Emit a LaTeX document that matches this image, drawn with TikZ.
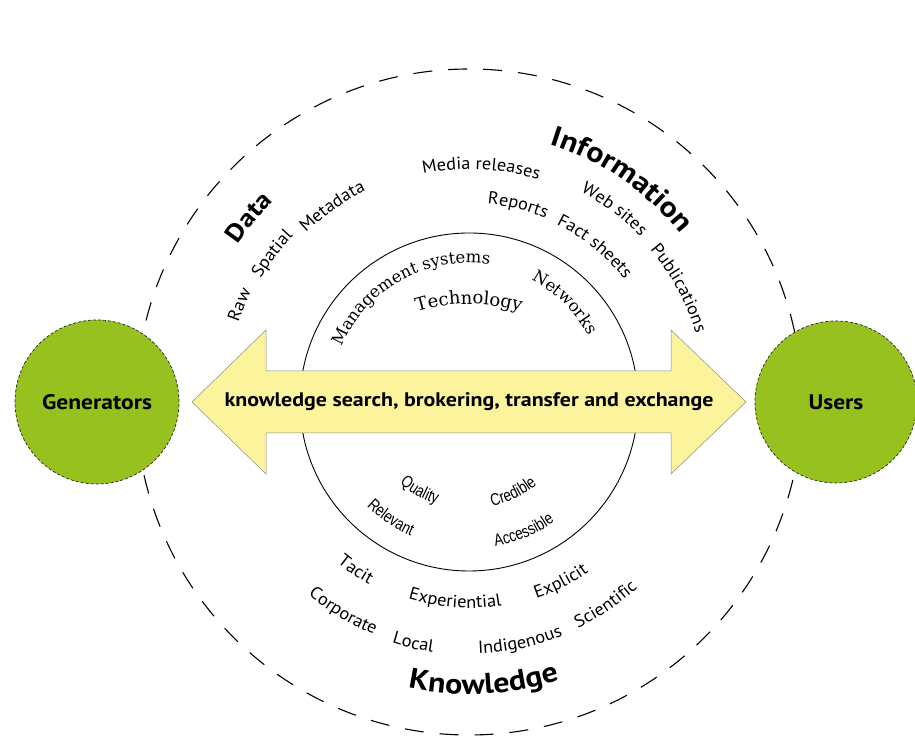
\documentclass[tikz,border=0pt]{standalone}
\usepackage{fontspec}
\setsansfont{PT Sans}
\newfontfamily\widesans[FakeStretch=1.12]{PT Sans}
\newfontfamily\humsans[FakeStretch=1.05]{PT Sans}
\newfontfamily\narrowfont[FakeStretch=0.8]{Liberation Sans}
\newfontfamily\serifB{DejaVu Serif}
\usetikzlibrary{calc,decorations.text}
\definecolor{leaf}{HTML}{96C11F}
\definecolor{pale}{HTML}{FBF49C}
\newcommand\fbig{\widesans\bfseries\fontsize{28.5}{31}\selectfont}
\newcommand\fdata{\widesans\bfseries\fontsize{25}{30}\selectfont}
\newcommand\fmid{\humsans\fontsize{17.5}{20}\selectfont}
\newcommand\fnar{\narrowfont\fontsize{17}{20}\selectfont}
\newcommand\fser{\serifB\fontsize{16.5}{19}\selectfont}
\newcommand\ftech{\serifB\fontsize{18}{21}\selectfont}
\newcommand\farr{\widesans\bfseries\fontsize{19.6}{22}\selectfont}
% text along an upper arc (reads clockwise): #1 centre, #2 radius, #3 mid angle, #4 format, #5 text
\newcommand\uparc[5]{\path[decorate,decoration={text along path,text align=center,text={|#4|#5}}]
  ($(#1)+(#3+50:#2)$) arc[start angle=#3+50,end angle=#3-50,radius=#2];}
% text along a lower arc (reads anticlockwise)
\newcommand\lowarc[5]{\path[decorate,decoration={text along path,text align=center,text={|#4|#5}}]
  ($(#1)+(#3-50:#2)$) arc[start angle=#3-50,end angle=#3+50,radius=#2];}
\tikzset{
  outerring/.style={draw=black,line width=1.1pt,dash pattern=on 19pt off 16pt},
  innerring/.style={draw=black,line width=0.9pt},
  party/.style={circle,fill=leaf,draw=black!85,line width=0.7pt,densely dashed,minimum size=164pt,inner sep=0pt,font=\widesans\bfseries\fontsize{21}{23}\selectfont},
  flowarrow/.style={fill=pale,draw=black!45,line width=0.5pt,line join=miter},
}
\begin{document}
\begin{tikzpicture}[x=1pt,y=1pt]
\path[fill=white] (0,0) rectangle (915,738);
\useasboundingbox (0,0) rectangle (915,738);
\coordinate (C) at (469,336);
\coordinate (C2) at (469,256);
% rings
\draw[outerring] (C) circle (333);
\draw[innerring] (C) circle (169);
% double arrow
\coordinate (L) at (192,336);
\coordinate (R) at (746,336);
\draw[flowarrow] (L) -- ++(74,72) -- ++(0,-41) -- ($(R)+(-75,31)$) -- ++(0,41) -- (R)
  -- ++(-75,-72) -- ++(0,41) -- ($(L)+(74,-31)$) -- ++(0,-41) -- cycle;
\node[font=\farr] (lab) at (C) {knowledge search, brokering, transfer and exchange};
% parties
\node[party] (gen) at (97,336) {Generators};
\node[party,minimum size=162pt] (usr) at (836,336) {Users};
% Data / Information
\uparc{C}{280}{140}{\fdata}{Data}
\uparc{C}{270}{55.5}{\fbig}{Information}
\uparc{C}{244}{157}{\fmid}{Raw}
\uparc{C}{242}{143}{\fmid}{Spatial}
\uparc{C}{235}{125}{\fmid}{Metadata}
\uparc{C}{233}{87}{\fmid}{Media releases}
\uparc{C}{238}{53}{\fmid}{Web sites}
\uparc{C}{237}{28.5}{\fmid}{Publications}
\uparc{C}{199}{76}{\fmid}{Reports}
\uparc{C}{198}{51}{\fmid}{Fact sheets}
% inner upper
\uparc{C}{139}{119}{\fser}{Management systems}
\uparc{C}{137}{46}{\fser}{Networks}
\uparc{C2}{178}{90}{\ftech}{Technology}
% inner lower
\lowarc{C}{107}{241}{\fnar}{Quality}
\lowarc{C}{146}{236}{\fnar}{Relevant}
\lowarc{C}{107}{296}{\fnar}{Credible}
\lowarc{C}{147}{293}{\fnar}{Accessible}
% knowledge
\lowarc{C}{208}{236}{\fmid}{Tacit}
\lowarc{C}{251}{239}{\fmid}{Corporate}
\lowarc{C}{206}{266}{\fmid}{Experiential}
\lowarc{C}{253}{257}{\fmid}{Local}
\lowarc{C}{208}{297}{\fmid}{Explicit}
\lowarc{C}{252}{282}{\fmid}{Indigenous}
\lowarc{C}{251}{304}{\fmid}{Scientific}
\lowarc{C}{292}{273}{\fbig}{Knowledge}
\end{tikzpicture}
\end{document}
